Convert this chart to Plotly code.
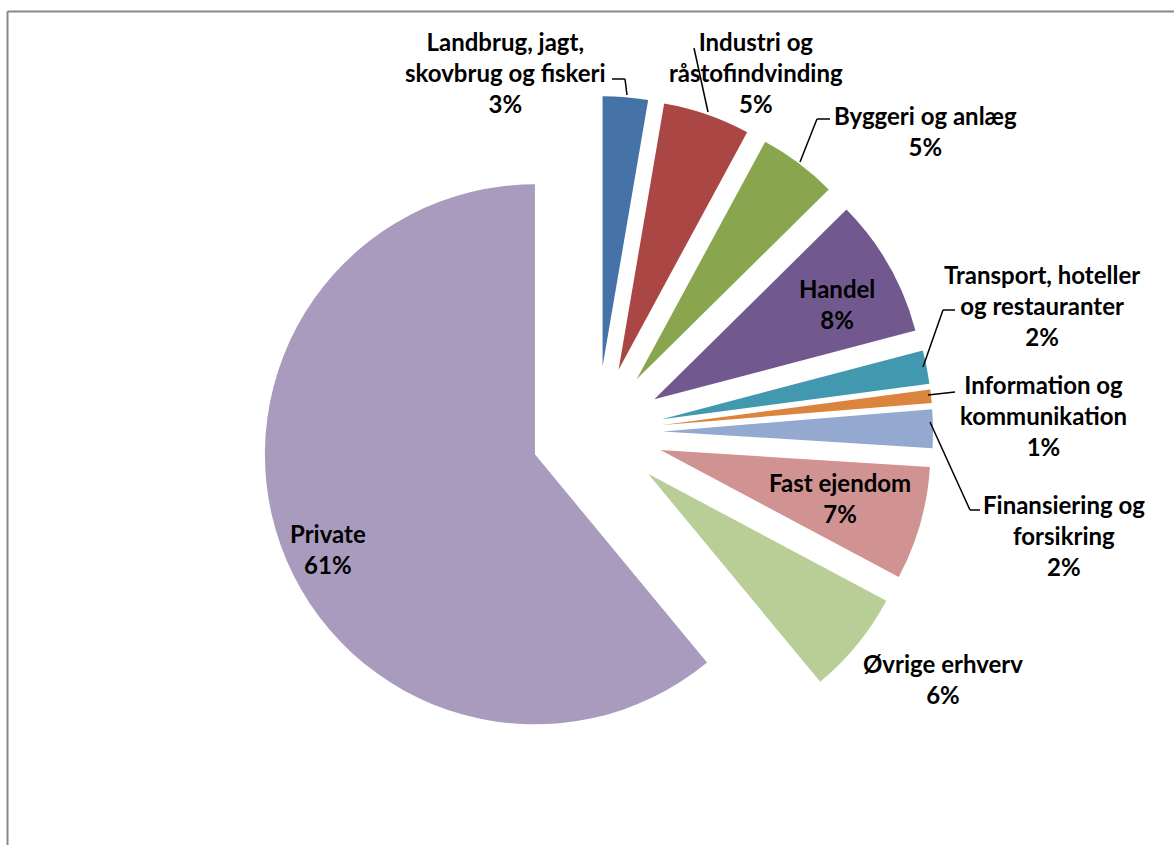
import plotly.graph_objects as go

# ---- data ----
categories = [
    "Landbrug, jagt, skovbrug og fiskeri",
    "Industri og råstofindvinding",
    "Byggeri og anlæg",
    "Handel",
    "Transport, hoteller og restauranter",
    "Information og kommunikation",
    "Finansiering og forsikring",
    "Fast ejendom",
    "Øvrige erhverv",
    "Private",
]
values = [2.7, 5.2, 4.7, 8.3, 2.0, 0.8, 2.3, 6.8, 6.2, 61.0]
label_texts = [
    "Landbrug, jagt,<br>skovbrug og fiskeri<br>3%",
    "Industri og<br>råstofindvinding<br>5%",
    "Byggeri og anlæg<br>5%",
    "Handel<br>8%",
    "Transport, hoteller<br>og restauranter<br>2%",
    "Information og<br>kommunikation<br>1%",
    "Finansiering og<br>forsikring<br>2%",
    "Fast ejendom<br>7%",
    "Øvrige erhverv<br>6%",
    "Private<br>61%",
]
colors = ["#4572A7", "#AA4643", "#89A54E", "#71588F", "#4198AF",
          "#DB843D", "#93A9CF", "#D19392", "#B9CD96", "#A99BBD"]

W, H = 1174, 845
def px(x): return x / W
def py(y): return 1 - y / H

# label block centres (pixels)
label_pos = [(505, 72), (756, 72.5), (926, 131), (837, 303.5), (1042, 305),
             (1043, 415), (1064, 535), (840, 497.5), (943, 679), (328, 549)]

# leader lines (pixel polylines)
leaders = [
    [(612, 79), (625, 79), (627, 95)],
    [(694, 48), (708, 112)],
    [(830, 119), (817, 119), (800, 162)],
    [(955, 310), (943, 310), (923, 367)],
    [(955, 392), (928, 395)],
    [(930, 422), (970, 510), (980, 510)],
]

fig = go.Figure(go.Pie(
    labels=categories,
    values=values,
    sort=False,
    direction="clockwise",
    rotation=0,
    pull=[0.2444] * len(values),
    marker=dict(colors=colors, line=dict(width=0)),
    textinfo="none",
    hoverinfo="label+percent",
    showlegend=False,
    domain=dict(x=[261 / W, 933 / W], y=[py(768), py(96)]),
))

annotations = []
for t, (x, y) in zip(label_texts, label_pos):
    annotations.append(dict(
        x=px(x), y=py(y), xref="paper", yref="paper", text=t, showarrow=False,
        xanchor="center", yanchor="middle", align="center",
        font=dict(family="Lato", size=24, color="#000000", weight="bold"),
    ))

shapes = []
for poly in leaders:
    for (x0, y0), (x1, y1) in zip(poly[:-1], poly[1:]):
        shapes.append(dict(type="line", xref="paper", yref="paper",
                           x0=px(x0), y0=py(y0), x1=px(x1), y1=py(y1),
                           line=dict(color="#000000", width=1.5)))
# chart frame
shapes.append(dict(type="line", xref="paper", yref="paper",
                   x0=px(7.5), y0=py(11.5), x1=px(1174), y1=py(11.5),
                   line=dict(color="#888888", width=2)))
shapes.append(dict(type="line", xref="paper", yref="paper",
                   x0=px(7.5), y0=py(11.5), x1=px(7.5), y1=py(845),
                   line=dict(color="#888888", width=2)))

fig.update_layout(
    width=W, height=H,
    margin=dict(l=0, r=0, t=0, b=0),
    paper_bgcolor="white", plot_bgcolor="white",
    annotations=annotations, shapes=shapes,
)
fig.write_html("out.html")
